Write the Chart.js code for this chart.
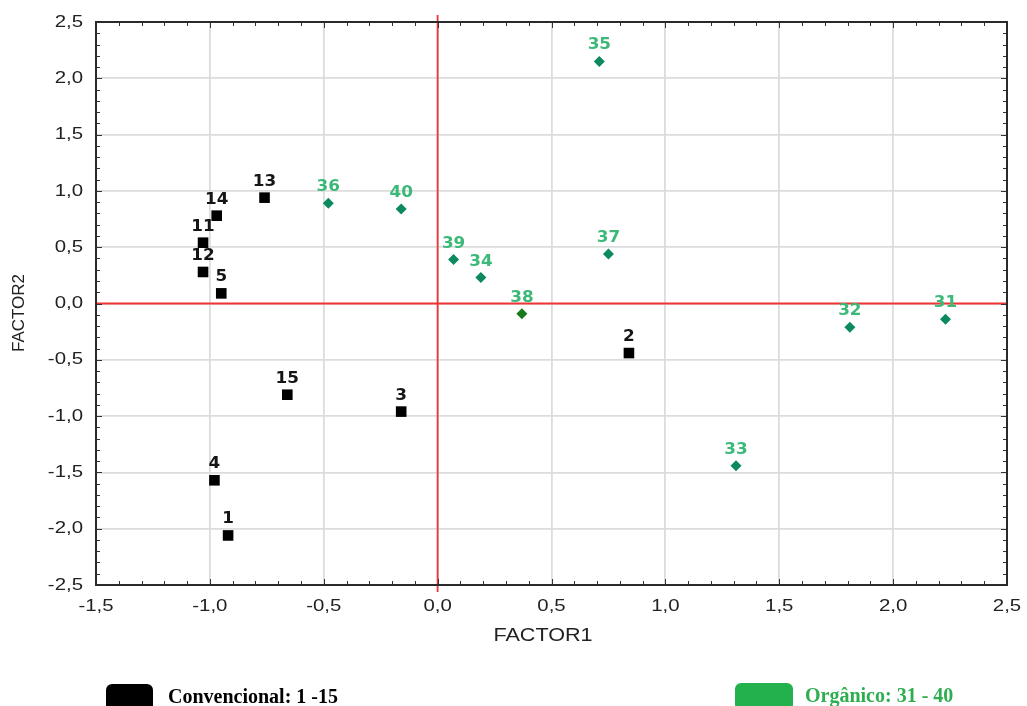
<!DOCTYPE html>
<html>
<head>
<meta charset="utf-8">
<script src="https://cdn.jsdelivr.net/npm/chart.js@4.4.0/dist/chart.umd.min.js"></script>
<style>
body{margin:0;background:#fff;}
#wrap{position:relative;width:1027px;height:706px;overflow:hidden;}
#c{position:absolute;left:0;top:0;}
.leg{position:absolute;font-family:"Liberation Serif","Times New Roman",serif;font-weight:bold;font-size:20px;line-height:20px;}
.box{position:absolute;border-radius:6px;}
</style>
</head>
<body>
<div id="wrap">
<canvas id="c" width="1027" height="706"></canvas>
<div class="box" style="left:106px;top:684px;width:47px;height:28px;background:#000"></div>
<div class="leg" style="left:168px;top:686px;color:#000">Convencional: 1 -15</div>
<div class="box" style="left:735px;top:683px;width:58px;height:28px;background:#22b14c"></div>
<div class="leg" style="left:805px;top:685px;color:#2fae50">Orgânico: 31 - 40</div>
</div>
<script>
// valores
var convLabels = ['1','2','3','4','5','11','12','13','14','15'];
var convX = [-0.92, 0.84, -0.16, -0.98, -0.95, -1.03, -1.03, -0.76, -0.97, -0.66];
var convY = [-2.06, -0.44, -0.96, -1.57, 0.09, 0.54, 0.28, 0.94, 0.78, -0.81];

var orgLabels = ['31','32','33','34','35','36','37','38','39','40'];
var orgX = [2.23, 1.81, 1.31, 0.19, 0.71, -0.48, 0.75, 0.37, 0.07, -0.16];
var orgY = [-0.14, -0.21, -1.44, 0.23, 2.15, 0.89, 0.44, -0.09, 0.39, 0.84];

var xTicks = [-1.5, -1.0, -0.5, 0.0, 0.5, 1.0, 1.5, 2.0, 2.5];
var yTicks = [-2.5, -2.0, -1.5, -1.0, -0.5, 0.0, 0.5, 1.0, 1.5, 2.0, 2.5];

var xTitle = 'FACTOR1';
var yTitle = 'FACTOR2';

function fmt(v) {
  return v.toFixed(1).replace('.', ',');
}

function pts(xs, ys) {
  var out = [];
  for (var i = 0; i < xs.length; i++) out.push({x: xs[i], y: ys[i]});
  return out;
}

var orgColors = orgLabels.map(function(l){ return l === '38' ? '#187a1c' : '#0b8a5e'; });

var axisFont = '"Liberation Sans", Arial, sans-serif';
var SX = 1.2; // el original está estirado en horizontal

// texto estirado
function stretchText(ctx, txt, x, y, align) {
  ctx.save();
  ctx.translate(x, y);
  ctx.scale(SX, 1);
  ctx.textAlign = align;
  ctx.fillText(txt, 0, 0);
  ctx.restore();
}

// etiquetas, ejes rojos y marco con marcas menores
var extras = {
  id: 'extras',
  beforeDatasetsDraw: function(chart) {
    var ctx = chart.ctx, a = chart.chartArea;
    var x0 = chart.scales.x.getPixelForValue(0);
    var y0 = chart.scales.y.getPixelForValue(0);
    ctx.save();
    ctx.strokeStyle = '#f03434';
    ctx.lineWidth = 1.8;
    ctx.beginPath();
    ctx.moveTo(x0, a.top - 7); ctx.lineTo(x0, a.bottom + 7);
    ctx.moveTo(a.left, y0); ctx.lineTo(a.right, y0);
    ctx.stroke();
    ctx.restore();
  },
  afterDatasetsDraw: function(chart) {
    var ctx = chart.ctx;
    var sets = [[convLabels, '#151515'], [orgLabels, '#3cb878']];
    ctx.save();
    ctx.font = 'bold 15px "DejaVu Sans", Verdana, sans-serif';
    ctx.textBaseline = 'alphabetic';
    sets.forEach(function(s, i) {
      var meta = chart.getDatasetMeta(i);
      ctx.fillStyle = s[1];
      meta.data.forEach(function(p, j) {
        ctx.save();
        ctx.translate(p.x, p.y - 12);
        ctx.scale(1.12, 1);
        ctx.textAlign = 'center';
        ctx.fillText(s[0][j], 0, 0);
        ctx.restore();
      });
    });
    ctx.restore();
  },
  afterDraw: function(chart) {
    var ctx = chart.ctx, a = chart.chartArea;
    var xs = chart.scales.x, ys = chart.scales.y;
    ctx.save();
    ctx.strokeStyle = '#333';
    ctx.lineWidth = 1;
    ctx.beginPath();
    for (var k = -15; k <= 25; k++) {
      var px = Math.round(xs.getPixelForValue(k / 10)) + 0.5;
      var len = (k % 5 === 0) ? 6 : 4;
      ctx.moveTo(px, a.bottom); ctx.lineTo(px, a.bottom - len);
      ctx.moveTo(px, a.top); ctx.lineTo(px, a.top + len);
    }
    for (var m = -25; m <= 25; m++) {
      var py = Math.round(ys.getPixelForValue(m / 10)) + 0.5;
      var l2 = (m % 5 === 0) ? 6 : 4;
      ctx.moveTo(a.left, py); ctx.lineTo(a.left + l2, py);
      ctx.moveTo(a.right, py); ctx.lineTo(a.right - l2, py);
    }
    ctx.stroke();
    ctx.lineWidth = 2;
    ctx.strokeStyle = '#2a2a2a';
    ctx.strokeRect(a.left, a.top, a.right - a.left, a.bottom - a.top);

    // textos de los ejes
    ctx.fillStyle = '#222';
    ctx.textBaseline = 'middle';
    ctx.font = '17px ' + axisFont;
    xTicks.forEach(function(v) {
      stretchText(ctx, fmt(v), xs.getPixelForValue(v), a.bottom + 21, 'center');
    });
    yTicks.forEach(function(v) {
      stretchText(ctx, fmt(v), a.left - 13, ys.getPixelForValue(v), 'right');
    });
    ctx.font = '18px ' + axisFont;
    stretchText(ctx, xTitle, 543, 636, 'center');
    ctx.save();
    ctx.font = '17px ' + axisFont;
    ctx.translate(19, 313);
    ctx.rotate(-Math.PI / 2);
    ctx.textAlign = 'center';
    ctx.fillText(yTitle, 0, 0);
    ctx.restore();
    ctx.restore();
  }
};

new Chart(document.getElementById('c'), {
  type: 'scatter',
  data: {
    datasets: [{
      label: 'Convencional',
      data: pts(convX, convY),
      pointStyle: 'rect',
      pointRadius: 7.5,
      pointHoverRadius: 7.5,
      backgroundColor: '#000',
      borderColor: '#000',
      borderWidth: 0
    }, {
      label: 'Orgânico',
      data: pts(orgX, orgY),
      pointStyle: 'rectRot',
      pointRadius: 5.5,
      pointHoverRadius: 5.5,
      backgroundColor: orgColors,
      borderColor: orgColors,
      borderWidth: 0
    }]
  },
  options: {
    responsive: false,
    animation: false,
    events: [],
    layout: {padding: {left: 0, top: 22, right: 20, bottom: 0}},
    plugins: {legend: {display: false}, tooltip: {enabled: false}},
    scales: {
      x: {
        type: 'linear',
        min: -1.5, max: 2.5,
        afterBuildTicks: function(s){ s.ticks = xTicks.map(function(v){ return {value: v}; }); },
        afterFit: function(s){ s.height = 121; },
        ticks: {display: false},
        grid: {color: '#dcdcdc', lineWidth: 1.8, drawTicks: false},
        border: {display: false},
        title: {display: false}
      },
      y: {
        type: 'linear',
        min: -2.5, max: 2.5,
        afterBuildTicks: function(s){ s.ticks = yTicks.map(function(v){ return {value: v}; }); },
        afterFit: function(s){ s.width = 96; },
        ticks: {display: false},
        grid: {color: '#dcdcdc', lineWidth: 1.8, drawTicks: false},
        border: {display: false},
        title: {display: false}
      }
    }
  },
  plugins: [extras]
});
</script>
</body>
</html>
